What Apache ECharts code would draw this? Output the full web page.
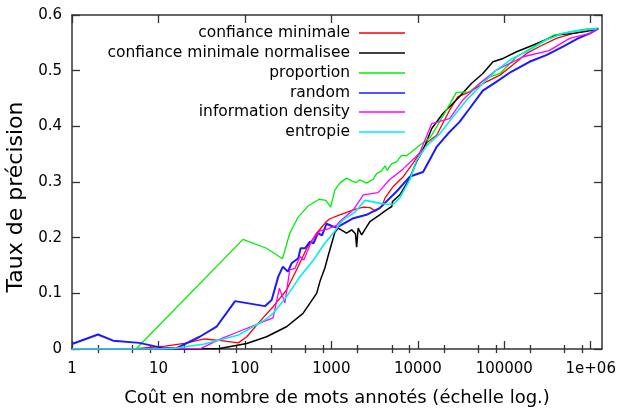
<!DOCTYPE html>
<html>
<head>
<meta charset="utf-8">
<script src="https://cdn.jsdelivr.net/npm/echarts@6/dist/echarts.min.js"></script>
<style>
html,body{margin:0;padding:0;background:#fff;}
#chart{width:621px;height:412px;}
</style>
</head>
<body>
<div id="chart"></div>
<script>
// Series names (legend order)
const seriesNames = ["confiance minimale", "confiance minimale normalisee", "proportion", "random", "information density", "entropie"];

// Data: [cost in annotated words, precision rate]
const confianceMinimale = [[1,0],[5,0],[12,0.005],[20,0.01],[34,0.018],[53,0.015],[84,0.011],[105,0.022],[150,0.05],[212,0.076],[303,0.106],[395,0.142],[520,0.181],[675,0.208],[880,0.229],[960,0.234],[1250,0.241],[1800,0.25],[2340,0.255],[2790,0.254],[3250,0.248],[3810,0.256],[4170,0.271],[5200,0.292],[6820,0.31],[8800,0.334],[10500,0.352],[13000,0.372],[16500,0.384],[23300,0.429],[29000,0.453],[39700,0.462],[62000,0.48],[89000,0.492],[125000,0.51],[181000,0.531],[253000,0.543],[400000,0.558],[631000,0.567],[980000,0.573],[1200000,0.576]];

const confianceMinimaleNormalisee = [[1,0],[10,0],[20,0],[51,0.001],[105,0.01],[178,0.022],[303,0.04],[470,0.064],[675,0.1],[740,0.122],[840,0.145],[920,0.168],[1010,0.19],[1100,0.21],[1200,0.217],[1500,0.208],[1720,0.214],[1900,0.207],[1960,0.183],[2040,0.217],[2240,0.205],[2450,0.215],[2790,0.229],[3620,0.241],[4350,0.25],[5000,0.256],[5100,0.265],[6200,0.277],[8100,0.307],[9600,0.336],[11500,0.357],[14500,0.396],[19500,0.423],[29000,0.45],[41700,0.477],[56500,0.495],[74000,0.516],[97000,0.522],[139000,0.534],[217000,0.546],[306000,0.556],[400000,0.564],[631000,0.567],[900000,0.571],[1200000,0.575]];

const proportion = [[1,0],[3,0],[5.5,0],[95,0.197],[178,0.181],[272,0.162],[330,0.208],[414,0.237],[540,0.257],[720,0.269],[865,0.267],[980,0.255],[1100,0.286],[1250,0.298],[1500,0.307],[1720,0.302],[1930,0.299],[2140,0.304],[2550,0.298],[3050,0.305],[3330,0.315],[3810,0.32],[4170,0.329],[4400,0.321],[5000,0.333],[5670,0.336],[6470,0.348],[7400,0.347],[8430,0.354],[10500,0.366],[13900,0.38],[16500,0.399],[21400,0.429],[27900,0.461],[39700,0.462],[51800,0.477],[62000,0.486],[89000,0.495],[139000,0.525],[217000,0.543],[373000,0.564],[631000,0.571],[900000,0.575],[1200000,0.576]];

const random = [[1,0.009],[2,0.026],[3,0.015],[6,0.011],[11,0.002],[16,0.001],[30,0.022],[47,0.04],[77,0.086],[170,0.077],[204,0.088],[243,0.13],[275,0.148],[314,0.139],[347,0.154],[414,0.163],[441,0.181],[495,0.181],[565,0.193],[620,0.19],[700,0.208],[780,0.204],[880,0.225],[1010,0.221],[1150,0.218],[1800,0.235],[2550,0.241],[3620,0.253],[5670,0.283],[8140,0.31],[11500,0.318],[16500,0.363],[22400,0.387],[30400,0.408],[39700,0.432],[56500,0.464],[80900,0.48],[120000,0.498],[196000,0.516],[306000,0.528],[478000,0.543],[713000,0.558],[980000,0.567],[1230000,0.576]];

const informationDensity = [[1,0],[10,0],[31,0.001],[54,0.019],[84,0.031],[170,0.05],[212,0.056],[250,0.109],[290,0.083],[330,0.142],[380,0.145],[433,0.166],[480,0.16],[590,0.194],[735,0.212],[880,0.215],[1150,0.222],[1250,0.229],[1800,0.25],[2340,0.277],[3470,0.281],[4700,0.304],[6820,0.324],[10500,0.352],[14500,0.405],[23300,0.414],[33000,0.447],[51800,0.477],[80900,0.501],[165000,0.525],[330000,0.536],[570000,0.558],[980000,0.567],[1200000,0.576]];

const entropie = [[1,0],[10,0],[15,0.001],[34,0.009],[84,0.025],[170,0.052],[212,0.064],[303,0.094],[433,0.13],[620,0.16],[840,0.19],[1100,0.212],[1250,0.225],[1370,0.232],[1870,0.246],[2450,0.267],[3330,0.263],[4350,0.26],[5200,0.26],[6200,0.272],[8140,0.305],[9600,0.338],[12600,0.365],[18000,0.387],[25500,0.417],[36500,0.447],[56500,0.477],[81000,0.501],[125000,0.522],[196000,0.537],[306000,0.555],[478000,0.567],[750000,0.572],[1200000,0.576]];

// Axis ticks
const xMajorTicks = [1, 10, 100, 1000, 10000, 100000, 1000000];
const xMinorTicks = [2,5,8,20,50,80,200,500,800,2000,5000,8000,20000,50000,80000,200000,500000,800000];
const xMin = 1, xMax = 1350000;

const allData = [confianceMinimale, confianceMinimaleNormalisee, proportion, random, informationDensity, entropie];
const colors = ["#ff0000", "#000000", "#00ee00", "#1a1aff", "#ff00ff", "#00eeee"];
const widths = [1.3, 1.5, 1.3, 2, 1.3, 1.6];

const FONT = "DejaVu Sans";
const axisColor = "#333";

function xLabel(v){
  const r = Math.round(v);
  return r >= 1000000 ? "1e+06" : String(r);
}

const baseX = {type: "log", min: xMin, max: xMax, logBase: 10, gridIndex: 0, splitLine: {show: false}};
const chart = echarts.init(document.getElementById("chart"), null, {renderer: "canvas"});

const legendTops = [24, 44, 64, 84, 103, 123];
const legends = seriesNames.map((n, i) => ({
  data: [n], right: 216, top: legendTops[i] + 1, orient: "vertical", align: "right",
  padding: 0, itemWidth: 46, itemHeight: 1.6, icon: "rect", selectedMode: false,
  textStyle: {fontFamily: FONT, fontSize: 15.5, color: "#000", padding: [0, 4, 0, 0]}
}));

chart.setOption({
  animation: false,
  backgroundColor: "#fff",
  grid: {left: 72, right: 19, top: 15, bottom: 63, containLabel: false, outerBoundsMode: "none"},
  legend: legends,
  xAxis: [
    Object.assign({}, baseX, {
      position: "bottom",
      name: "Coût en nombre de mots annotés (échelle log.)",
      nameLocation: "middle", nameGap: 40,
      nameTextStyle: {fontFamily: FONT, fontSize: 18, color: "#000"},
      axisLine: {show: true, onZero: false, lineStyle: {color: axisColor, width: 1.5}},
      axisTick: {show: true, inside: true, length: 8, customValues: xMajorTicks, lineStyle: {color: axisColor, width: 1.3}},
      axisLabel: {show: true, customValues: xMajorTicks, formatter: xLabel, margin: 13, fontFamily: FONT, fontSize: 15, color: "#000"}
    }),
    Object.assign({}, baseX, {
      position: "top",
      axisLine: {show: true, onZero: false, lineStyle: {color: axisColor, width: 1.5}},
      axisTick: {show: true, inside: true, length: 8, customValues: xMajorTicks, lineStyle: {color: axisColor, width: 1.3}},
      axisLabel: {show: false}
    }),
    Object.assign({}, baseX, {
      position: "bottom",
      axisLine: {show: false},
      axisTick: {show: true, inside: true, length: 4, customValues: xMinorTicks, lineStyle: {color: axisColor, width: 1.3}},
      axisLabel: {show: false}
    }),
    Object.assign({}, baseX, {
      position: "top",
      axisLine: {show: false},
      axisTick: {show: true, inside: true, length: 4, customValues: xMinorTicks, lineStyle: {color: axisColor, width: 1.3}},
      axisLabel: {show: false}
    })
  ],
  yAxis: [
    {
      type: "value", min: 0, max: 0.6, interval: 0.1, position: "left",
      name: "Taux de précision", nameLocation: "middle", nameGap: 43, nameRotate: 90,
      nameTextStyle: {fontFamily: FONT, fontSize: 22, color: "#000", padding: [0, 30, 0, 0]},
      splitLine: {show: false},
      axisLine: {show: true, onZero: false, lineStyle: {color: axisColor, width: 1.5}},
      axisTick: {show: true, inside: true, length: 8, lineStyle: {color: axisColor, width: 1.3}},
      axisLabel: {fontFamily: FONT, fontSize: 15, color: "#000", margin: 10}
    },
    {
      type: "value", min: 0, max: 0.6, interval: 0.1, position: "right",
      splitLine: {show: false},
      axisLine: {show: true, onZero: false, lineStyle: {color: axisColor, width: 1.5}},
      axisTick: {show: true, inside: true, length: 8, lineStyle: {color: axisColor, width: 1.3}},
      axisLabel: {show: false}
    }
  ],
  series: seriesNames.map((n, i) => ({
    name: n, type: "line", xAxisIndex: 0, yAxisIndex: 0,
    data: allData[i], showSymbol: false, symbol: "none",
    lineStyle: {color: colors[i], width: widths[i]},
    itemStyle: {color: colors[i]},
    emphasis: {disabled: true}
  }))
});
</script>
</body>
</html>
